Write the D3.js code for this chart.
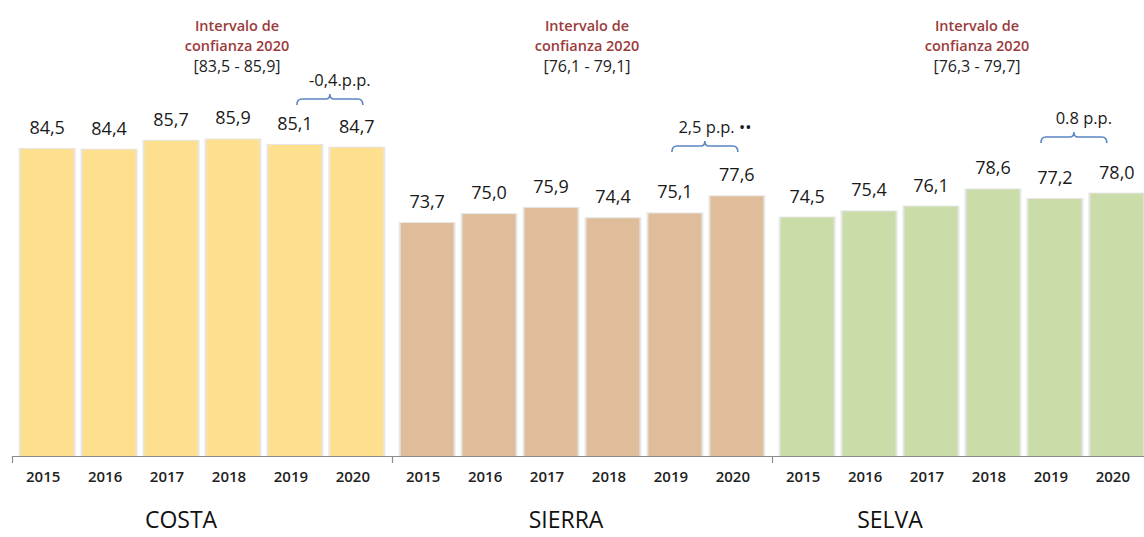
<!DOCTYPE html>
<html>
<head>
<meta charset="utf-8">
<script src="https://cdn.jsdelivr.net/npm/d3@7"></script>
<style>
  body { margin: 0; background: #fff; }
  svg { display: block; font-family: "Open Sans", sans-serif; }
</style>
</head>
<body>
<svg id="chart" width="1144" height="537"></svg>
<script>
const regions = ["COSTA", "SIERRA", "SELVA"];
const years = ["2015", "2016", "2017", "2018", "2019", "2020"];
const costaValues = [84.5, 84.4, 85.7, 85.9, 85.1, 84.7];
const sierraValues = [73.7, 75.0, 75.9, 74.4, 75.1, 77.6];
const selvaValues = [74.5, 75.4, 76.1, 78.6, 77.2, 78.0];
const intervals = ["[83,5 - 85,9]", "[76,1 - 79,1]", "[76,3 - 79,7]"];
const diffLabels = ["-0,4.p.p.", "2,5 p.p. \u2022\u2022", "0.8 p.p."];

const colors = ["#FEDF8E", "#DFBD9A", "#CADCA7"];
const valuesByRegion = [costaValues, sierraValues, selvaValues];

// ajustes a mano de la posicion de los textos (respecto al grupo)
const titleDx = [-21, -16, -72];
const ciX = [225, 195, 205];
const bracketTop = [97, 144, 135];
const bracketDx = [2, -3, -14];

const svg = d3.select("#chart");
const baseY = 456;

const x0 = d3.scaleBand().domain(regions).range([12, 1152]);
const x1 = d3.scaleBand().domain(years).range([0, x0.bandwidth()])
  .paddingInner(0.145).paddingOuter(0.14);
const y = d3.scaleLinear().domain([39.7, 90]).range([baseY, baseY - 50.3 * 6.852]);

regions.forEach((r, gi) => {
  const gx = x0(r);
  const g = svg.append("g").attr("transform", `translate(${gx},0)`);
  const vals = valuesByRegion[gi];
  const data = years.map((yr, i) => ({ yr, v: vals[i] }));

  // sombra gris de las barras
  g.selectAll("rect.shadow").data(data).enter().append("rect")
    .attr("class", "shadow")
    .attr("x", d => x1(d.yr) - 2)
    .attr("y", d => y(d.v) - 1)
    .attr("width", x1.bandwidth() + 4)
    .attr("height", d => baseY - y(d.v) + 1)
    .attr("fill", "#e6e6e6");

  g.selectAll("rect.bar").data(data).enter().append("rect")
    .attr("class", "bar")
    .attr("x", d => x1(d.yr))
    .attr("y", d => y(d.v))
    .attr("width", x1.bandwidth())
    .attr("height", d => baseY - y(d.v))
    .attr("fill", colors[gi]);

  g.selectAll("text.val").data(data).enter().append("text")
    .attr("class", "val")
    .attr("x", d => x1(d.yr) + x1.bandwidth() / 2)
    .attr("y", d => y(d.v) - 15)
    .attr("text-anchor", "middle")
    .attr("font-size", 18)
    .attr("fill", "#1a1a1a")
    .text(d => d3.format(".1f")(d.v).replace(".", ","));

  g.selectAll("text.yr").data(years).enter().append("text")
    .attr("class", "yr")
    .attr("x", d => x1(d) + x1.bandwidth() / 2 - 4)
    .attr("y", 482)
    .attr("text-anchor", "middle")
    .attr("font-size", 15)
    .attr("font-weight", 600)
    .attr("fill", "#222")
    .text(d => d);

  g.append("text")
    .attr("x", x0.bandwidth() / 2 + titleDx[gi])
    .attr("y", 528)
    .attr("text-anchor", "middle")
    .attr("font-size", 23)
    .attr("fill", "#111")
    .text(r);

  // intervalo de confianza
  const ci = g.append("text")
    .attr("x", ciX[gi])
    .attr("text-anchor", "middle");
  ci.append("tspan").attr("x", ciX[gi]).attr("y", 31).attr("font-size", 14.5)
    .attr("font-weight", 600).attr("fill", "#9B3B3B").text("Intervalo de");
  ci.append("tspan").attr("x", ciX[gi]).attr("y", 51).attr("font-size", 14.5)
    .attr("font-weight", 600).attr("fill", "#9B3B3B").text("confianza 2020");
  ci.append("tspan").attr("x", ciX[gi]).attr("y", 72).attr("font-size", 16)
    .attr("fill", "#222").text(intervals[gi]);

  // llave de diferencia 2019-2020
  const bx1 = x1("2019") + x1.bandwidth() / 2 + bracketDx[gi];
  const bx2 = x1("2020") + x1.bandwidth() / 2 + bracketDx[gi] + 4;
  const bm = (bx1 + bx2) / 2;
  const bt = bracketTop[gi];
  g.append("path")
    .attr("d", `M${bx1},${bt + 8} Q${bx1},${bt + 2} ${bx1 + 5},${bt + 2} L${bm - 4},${bt + 2} Q${bm},${bt + 2} ${bm},${bt - 3} Q${bm},${bt + 2} ${bm + 4},${bt + 2} L${bx2 - 5},${bt + 2} Q${bx2},${bt + 2} ${bx2},${bt + 8}`)
    .attr("fill", "none")
    .attr("stroke", "#5B87C5")
    .attr("stroke-width", 1.6);

  g.append("text")
    .attr("x", bm + 10)
    .attr("y", bt - 11)
    .attr("text-anchor", "middle")
    .attr("font-size", 16.5)
    .attr("fill", "#1a1a1a")
    .text(diffLabels[gi]);
});

// eje horizontal con marcas entre regiones
const axis = svg.append("g");
axis.append("line")
  .attr("x1", 12).attr("x2", 1144)
  .attr("y1", baseY + 0.5).attr("y2", baseY + 0.5)
  .attr("stroke", "#8c8c8c").attr("stroke-width", 1.2);
axis.selectAll("line.tick").data(regions).enter().append("line")
  .attr("class", "tick")
  .attr("x1", d => x0(d) + 0.5).attr("x2", d => x0(d) + 0.5)
  .attr("y1", baseY).attr("y2", baseY + 7)
  .attr("stroke", "#8c8c8c").attr("stroke-width", 1.2);
</script>
</body>
</html>
